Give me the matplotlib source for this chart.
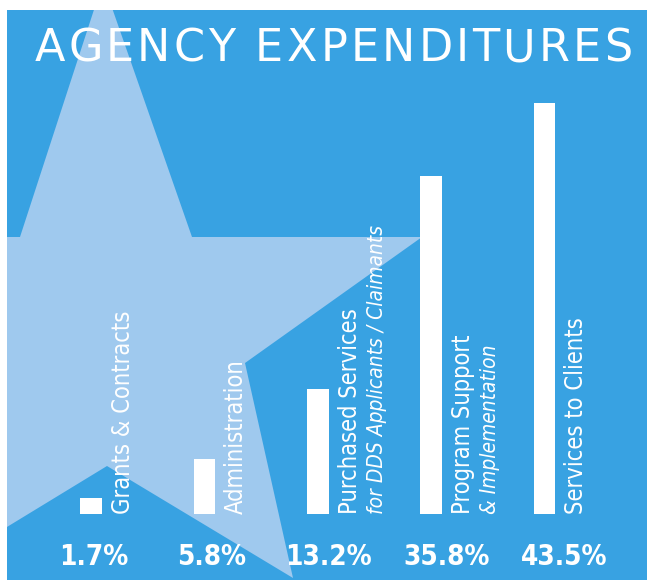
import numpy as np
import matplotlib

matplotlib.use("Agg")
import matplotlib.pyplot as plt
from matplotlib.patches import Rectangle, Polygon
from matplotlib.font_manager import FontProperties
from matplotlib.textpath import TextToPath

# data
categories = ["Grants & Contracts", "Administration", "Purchased Services",
              "Program Support", "Services to Clients"]
sublabels = ["", "", "for DDS Applicants / Claimants", "& Implementation", ""]
values = [1.7, 5.8, 13.2, 35.8, 43.5]
pct_labels = ["1.7%", "5.8%", "13.2%", "35.8%", "43.5%"]
title = "AGENCY EXPENDITURES"

BG = "#38a2e2"
STAR = "#9fc9ee"

W, H = 647, 584
fig = plt.figure(figsize=(W / 100, H / 100), dpi=100)
fig.patch.set_facecolor("white")

# background panel + decorative star, in pixel coordinates
bg = fig.add_axes([0, 0, 1, 1])
bg.set_xlim(0, W)
bg.set_ylim(H, 0)
bg.axis("off")
panel = Rectangle((7, 10), W - 7, 570, facecolor=BG, edgecolor="none")
bg.add_patch(panel)
star_pts = [(103, -18), (192, 237), (422, 237), (245, 363), (293, 578),
            (107, 466), (-80, 580), (-35, 363), (-215, 237), (20, 237)]
star = Polygon(star_pts, closed=True, facecolor=STAR, edgecolor="none")
bg.add_patch(star)
star.set_clip_path(panel)

# letter-spaced title: place each character by its advance + tracking
fp = FontProperties(family="DejaVu Sans", size=32)
t2p = TextToPath()
tracking = 3.3  # px
px = 100 / 72
x0 = 35
for k, ch in enumerate(title):
    w_prev = t2p.get_text_width_height_descent(title[:k], fp, ismath=False)[0]
    bg.text(x0 + w_prev * px + k * tracking, 61, ch, color="white",
            fontproperties=fp, ha="left", va="baseline")

# bars
ax = fig.add_axes([0, 70 / H, 1, 504 / H])
ax.patch.set_alpha(0)
ax.axis("off")
step = 113.4
ax.set_xlim(-91 / step, (W - 91) / step)
ax.set_ylim(0, 43.5 * 504 / 411)

x = np.arange(len(values))
ax.bar(x, values, width=0.19, color="white", edgecolor="none", zorder=3)

for i, (cat, sub) in enumerate(zip(categories, sublabels)):
    ax.text(i + 0.28, 0, cat, rotation=90, ha="center", va="bottom",
            color="white", fontsize=17, family="DejaVu Sans",
            fontstretch="condensed")
    if sub:
        ax.text(i + 0.52, 0, sub, rotation=90, ha="center", va="bottom",
                color="white", fontsize=15, style="italic",
                family="DejaVu Sans", fontstretch="condensed")

xt = ax.get_xaxis_transform()
for i, lab in enumerate(pct_labels):
    ax.text(i * 1.036 + 0.026, -0.085, lab, transform=xt, ha="center",
            va="center", color="white", fontsize=20, fontweight="bold",
            family="DejaVu Sans", fontstretch="condensed", clip_on=False)

fig.savefig("out.png", dpi=100)
